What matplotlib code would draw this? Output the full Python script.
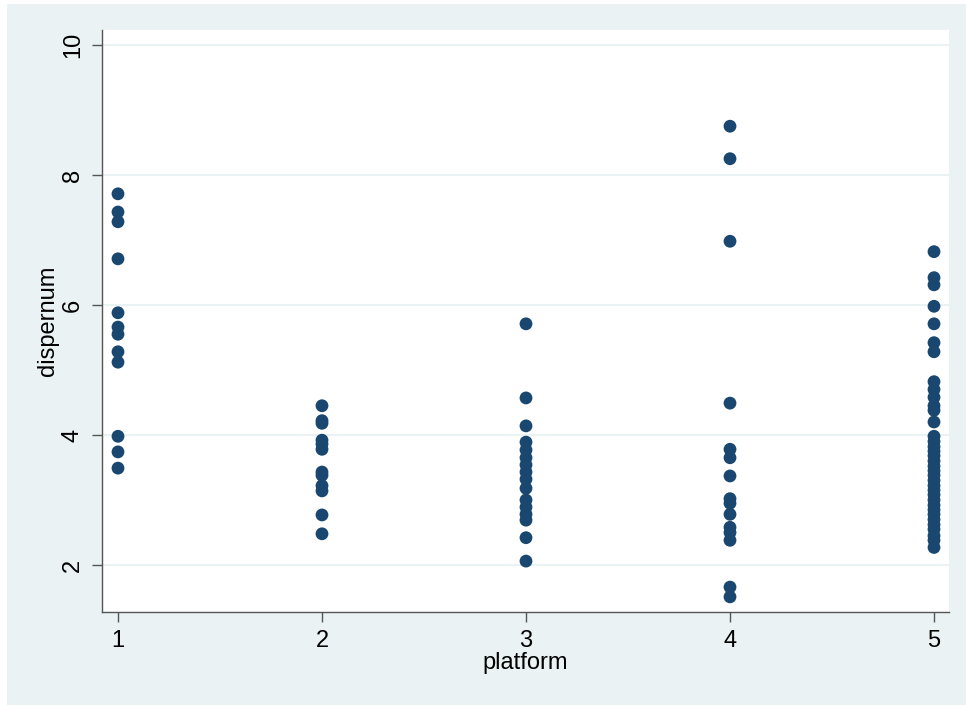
# -*- coding: utf-8 -*-

# 各平台 dispernum 散点图

import matplotlib.pyplot as plt
from matplotlib.patches import Rectangle

plt.rcParams['font.family'] = ['Liberation Sans', 'DejaVu Sans']

# 平台编号
platforms = [1, 2, 3, 4, 5]

# 每个平台的 dispernum 观测值
disp_1 = [7.71, 7.43, 7.28, 6.71, 5.88, 5.66, 5.55, 5.28, 5.12, 3.98, 3.74, 3.49]
disp_2 = [4.45, 4.22, 4.18, 3.92, 3.86, 3.78, 3.43, 3.38, 3.22, 3.14, 2.77, 2.48]
disp_3 = [5.71, 4.57, 4.14, 3.89, 3.77, 3.65, 3.54, 3.43, 3.32, 3.18, 3.0,
          2.89, 2.78, 2.69, 2.42, 2.06]
disp_4 = [8.75, 8.25, 6.98, 4.49, 3.78, 3.65, 3.37, 3.02, 2.95, 2.78,
          2.58, 2.5, 2.38, 1.66, 1.51]
disp_5 = [6.82, 6.42, 6.31, 5.98, 5.71, 5.42, 5.28, 4.82, 4.7, 4.58, 4.45,
          4.38, 4.2, 3.98, 3.9, 3.82, 3.75, 3.68, 3.6, 3.52, 3.45, 3.38, 3.3,
          3.22, 3.15, 3.08, 3.0, 2.92, 2.85, 2.78, 2.7, 2.62, 2.55, 2.45,
          2.38, 2.27]
groups = [disp_1, disp_2, disp_3, disp_4, disp_5]

y_ticks = [2, 4, 6, 8, 10]

bg = '#eaf2f3'
navy = '#1a476f'

fig = plt.figure(figsize=(9.66, 7.05), dpi=100, facecolor='white')
# 图形外框底色（放在坐标轴下面）
fig.patches.append(Rectangle((7 / 966, 0), 1, 1 - 4 / 705, transform=fig.transFigure,
                             facecolor=bg, edgecolor='none', zorder=-1))

ax = fig.add_axes([102 / 966, 93 / 705, 847 / 966, 582 / 705])
ax.set_facecolor('white')

for p, vals in zip(platforms, groups):
    ax.scatter([p] * len(vals), vals, s=85, c=navy, edgecolors='none', zorder=3)

ax.set_xlim(0.9216, 5.0735)
ax.set_ylim(1.277, 10.23)
ax.set_xticks(platforms)
ax.set_yticks(y_ticks)
ax.set_yticklabels([str(t) for t in y_ticks], rotation=90, va='center')
ax.grid(axis='y', color=bg, linewidth=1.5, zorder=1)
ax.grid(axis='x', visible=False)

for side in ['top', 'right']:
    ax.spines[side].set_visible(False)
for side in ['left', 'bottom']:
    ax.spines[side].set_color('#555555')
    ax.spines[side].set_linewidth(1.0)

ax.tick_params(axis='both', direction='out', length=7, width=1.0,
               color='#555555', labelsize=17, pad=6)
ax.set_xlabel('platform', fontsize=17, labelpad=0)
ax.set_ylabel('dispernum', fontsize=17, labelpad=2)

fig.savefig('out.png', dpi=100, facecolor=fig.get_facecolor())
